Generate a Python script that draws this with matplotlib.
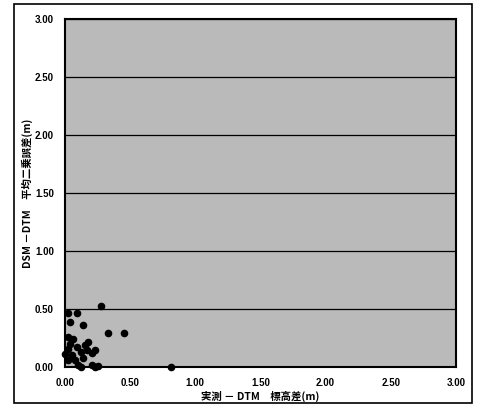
import matplotlib
matplotlib.use("Agg")
import matplotlib.pyplot as plt
from matplotlib.patches import Rectangle

plt.rcParams['font.family'] = ['Liberation Sans', 'Noto Sans CJK JP', 'DejaVu Sans']

x_vals = [0.28, 0.09, 0.02, 0.04, 0.14, 0.33, 0.45, 0.02, 0.18, 0.17, 0.12, 0.05,
          0.02, 0.21, 0.23, 0.08, 0.14, 0.10, 0.21, 0.25, 0.02, 0.04, 0.09, 0.12,
          0.23, 0.81, 0.00, 0.06, 0.15]
y_vals = [0.53, 0.47, 0.47, 0.39, 0.36, 0.29, 0.29, 0.26, 0.22, 0.15, 0.13, 0.10,
          0.16, 0.12, 0.15, 0.06, 0.08, 0.02, 0.02, 0.01, 0.06, 0.20, 0.17, 0.00,
          0.00, 0.00, 0.11, 0.24, 0.19]

ticks = [0.0, 0.5, 1.0, 1.5, 2.0, 2.5, 3.0]
tick_labels = ["0.00", "0.50", "1.00", "1.50", "2.00", "2.50", "3.00"]
xlabel = "実測 － DTM　標高差(m)"
ylabel = "DSM －DTM　平均二乗誤差(m)"

fig = plt.figure(figsize=(4.85, 4.12), dpi=100)
fig.patch.set_facecolor("white")
fig.patches.append(Rectangle((0.029, 0.022), 0.944, 0.968, transform=fig.transFigure,
                             fill=False, edgecolor="black", linewidth=1.2))

ax = fig.add_axes([0.134, 0.109, 0.806, 0.845])
ax.set_facecolor("#bababa")
ax.set_xlim(0, 3)
ax.set_ylim(0, 3)
ax.set_xticks(ticks)
ax.set_xticklabels(tick_labels)
ax.set_yticks(ticks)
ax.set_yticklabels(tick_labels)
ax.tick_params(length=0, labelsize=7, pad=8)
for lab in ax.get_xticklabels() + ax.get_yticklabels():
    lab.set_fontweight("bold")
ax.yaxis.grid(True, color="black", linewidth=0.9)
ax.set_axisbelow(True)
for s in ax.spines.values():
    s.set_linewidth(1.5)
    s.set_color("black")

ax.scatter(x_vals, y_vals, s=20, color="black", zorder=3, clip_on=False)

ax.set_xlabel(xlabel, fontsize=7.5, fontweight="bold",
              family=['Noto Sans CJK JP', 'DejaVu Sans'], labelpad=2)
ax.set_ylabel(ylabel, fontsize=7.5, fontweight="bold",
              family=['Noto Sans CJK JP', 'DejaVu Sans'], labelpad=1)

fig.savefig("out.png", dpi=100)
